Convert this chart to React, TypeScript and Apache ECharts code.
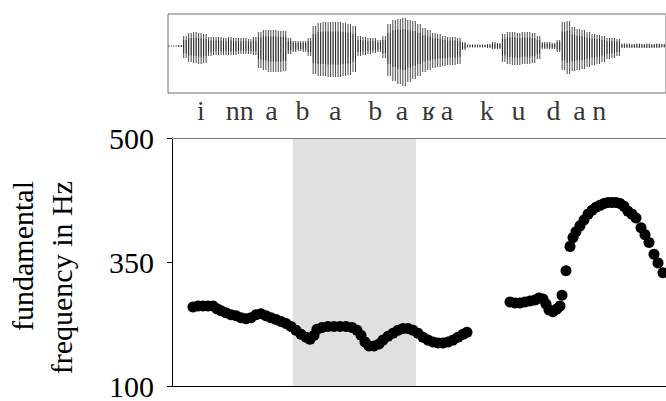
import React, { useEffect, useRef } from "react";
import * as echarts from "echarts";

const FONT = "Liberation Serif";

// Phoneme labels under the waveform (time in ms)
const phonemes = ["i", "nn", "a", "b", "a", "b", "a", "ʁ", "a", "k", "u", "d", "a", "n"];
const phonemeTimes = [87, 204, 300, 393, 492, 612, 693, 774, 828, 948, 1044, 1149, 1227, 1287];

// Waveform envelope (time in ms, amplitude above / below the zero line, arbitrary units)
const waveTimes = [
  -6, 9, 24, 39, 54, 69, 84, 99, 114, 129, 144, 159, 174, 189, 204, 219, 234, 249, 264, 279,
  294, 309, 324, 339, 354, 369, 384, 399, 414, 429, 444, 459, 474, 489, 504, 519, 534, 549, 564, 579,
  594, 609, 624, 639, 654, 669, 684, 699, 714, 729, 744, 759, 774, 789, 804, 819, 834, 849, 864, 879,
  894, 909, 924, 939, 954, 969, 984, 999, 1014, 1029, 1044, 1059, 1074, 1089, 1104, 1119, 1134, 1149, 1164, 1179,
  1194, 1209, 1224, 1239, 1254, 1269, 1284, 1299, 1314, 1329, 1344, 1359, 1374, 1389, 1404, 1419, 1434, 1449, 1464, 1479,
];
const waveUpper = [
  0.5, 0.5, 1, 10, 13, 14, 13, 12, 9, 9, 9, 8, 9, 8, 8, 8, 7, 9, 14, 16,
  16, 16, 15, 15, 8, 5, 5, 5, 8, 20, 23, 24, 24, 24, 24, 23, 22, 20, 10, 9,
  8, 8, 6, 10, 22, 26, 27, 28, 26, 25, 22, 18, 16, 13, 12, 10, 9, 9, 8, 4,
  1.5, 1.5, 1.5, 1.5, 2, 4, 3, 12, 14, 14, 13, 14, 14, 13, 10, 4, 4, 3, 6, 24,
  25, 19, 17, 16, 14, 12, 11, 10, 8, 8, 7, 2.5, 2.5, 2, 2.5, 2, 2.5, 2, 2.5, 2,
];
const waveLower = [
  0.5, 0.5, 1, 12, 16, 17, 18, 17, 10, 9, 9, 9, 9, 9, 8, 8, 8, 9, 22, 24,
  26, 26, 26, 25, 8, 6, 5, 6, 10, 28, 30, 30, 31, 31, 31, 30, 29, 26, 10, 9,
  8, 7, 6, 12, 30, 35, 38, 40, 36, 33, 30, 26, 24, 22, 21, 20, 19, 19, 18, 4,
  1.5, 1.5, 1.5, 1.5, 2, 3, 3, 16, 18, 19, 19, 18, 18, 17, 13, 3, 3, 3, 6, 24,
  28, 25, 24, 23, 21, 19, 18, 16, 13, 12, 10, 2, 2, 2, 2, 2, 2, 2, 2, 1.5,
];

// Fundamental frequency track (time in ms, Hz)
const f0Times = [
  63, 78, 93, 108, 123, 135, 147, 162, 177, 192, 207, 222, 237, 252, 267, 282, 297, 312, 327, 342,
  357, 372, 387, 402, 414, 426, 435, 450, 468, 486, 504, 522, 540, 555, 567, 579, 591, 606, 621, 633,
  648, 663, 678, 693, 708, 723, 738, 753, 768, 783, 798, 813, 828, 843, 858, 873, 885,
  1014, 1029, 1044, 1059, 1074, 1089, 1101, 1113, 1122, 1131, 1143, 1155, 1164, 1170, 1182, 1194, 1203, 1212, 1224, 1236,
  1248, 1260, 1272, 1284, 1296, 1308, 1320, 1332, 1344, 1356, 1368, 1380, 1392, 1407, 1419, 1431, 1446, 1458, 1473,
];
const f0Hz = [
  259.4, 261.4, 261.4, 261.4, 261.4, 255.5, 251.6, 247.6, 243.7, 241.7, 237.8, 235.8, 237.8, 243.7, 245.7, 241.7, 237.8, 233.9, 229.9, 226.0,
  220.1, 212.2, 204.3, 198.4, 194.5, 202.4, 214.2, 218.1, 220.1, 220.1, 220.1, 220.1, 218.1, 212.2, 202.4, 188.6, 180.7, 180.7, 184.6, 192.5,
  200.4, 206.3, 212.2, 216.1, 216.1, 212.2, 206.3, 198.4, 192.5, 188.6, 186.6, 186.6, 188.6, 192.5, 198.4, 204.3, 208.3,
  269.3, 267.3, 267.3, 269.3, 271.3, 273.2, 277.2, 275.2, 265.4, 253.5, 249.6, 255.5, 261.4, 283.1, 332.3, 368.9, 379.5, 386.6, 393.7, 400.8,
  407.9, 412.6, 416.1, 418.5, 420.9, 422.0, 422.0, 422.0, 420.9, 417.3, 411.4, 407.9, 403.1, 391.3, 383.1, 373.6, 359.4, 348.0, 328.3,
];

// Shaded interval (ms)
const shadedStart = 362;
const shadedEnd = 732;

// Y-axis ticks (Hz) – the axis is piecewise: 100–350 and 350–500 each take half the height
const yTickHz = [100, 350, 500];
const hzToPos = (hz: number) =>
  hz <= yTickHz[1]
    ? (hz - yTickHz[0]) / (yTickHz[1] - yTickHz[0])
    : 1 + (hz - yTickHz[1]) / (yTickHz[2] - yTickHz[1]);

const axisTitle = ["fundamental", "frequency in Hz"];

export default function App() {
  const ref = useRef<HTMLDivElement>(null);
  useEffect(() => {
    const chart = echarts.init(ref.current!, null, { renderer: "svg" });
    const option: any = {
      animation: false,
      backgroundColor: "#fff",
      grid: [
        { left: 172, right: 0, top: 138, height: 254 },
        { left: 168, right: -2, top: 14, height: 79, show: true, borderColor: "#6e6e6e", borderWidth: 1, backgroundColor: "transparent" },
        { left: 168, right: -2, top: 98, height: 24 },
      ],
      xAxis: [
        {
          gridIndex: 0, type: "value", min: 0, max: 1482, z: 10,
          axisLine: { show: true, onZero: false, lineStyle: { color: "#000", width: 1 } },
          axisTick: { show: false }, axisLabel: { show: false }, splitLine: { show: false },
        },
        {
          gridIndex: 0, type: "value", position: "top", min: 0, max: 1482, z: 10,
          axisLine: { show: true, onZero: false, lineStyle: { color: "#777", width: 1 } },
          axisTick: { show: false }, axisLabel: { show: false }, splitLine: { show: false },
        },
        { gridIndex: 1, type: "value", min: -12, max: 1488, show: false },
        { gridIndex: 2, type: "value", min: -12, max: 1488, show: false },
      ],
      yAxis: [
        {
          gridIndex: 0, type: "value", min: 0, max: 2, interval: 1, z: 10,
          axisLine: { show: true, onZero: false, lineStyle: { color: "#000", width: 1 } },
          axisTick: { show: true, length: 5, lineStyle: { color: "#000" } },
          axisLabel: {
            formatter: (v: number) => String(yTickHz[Math.round(v)]),
            fontFamily: FONT, fontSize: 30, color: "#000", margin: 18,
          },
          splitLine: { show: false },
        },
        { gridIndex: 1, type: "value", min: -47, max: 32, show: false },
        { gridIndex: 2, type: "value", min: 0, max: 1, show: false },
      ],
      graphic: axisTitle.map((t, i) => ({
        type: "text",
        x: i === 0 ? 22 : 61,
        y: 181,
        rotation: Math.PI / 2,
        style: { text: t, fontFamily: FONT, fontSize: 30, fill: "#000", align: "right", verticalAlign: "middle" },
      })),
      series: [
        {
          type: "scatter",
          xAxisIndex: 0, yAxisIndex: 0,
          symbolSize: 11,
          itemStyle: { color: "#000", opacity: 1 },
          data: f0Times.map((t, i) => [t, hzToPos(f0Hz[i])]),
          markArea: {
            silent: true,
            itemStyle: { color: "#e0e0e0", opacity: 1 },
            data: [[{ xAxis: shadedStart }, { xAxis: shadedEnd }]],
          },
        },
        {
          type: "custom",
          xAxisIndex: 2, yAxisIndex: 1,
          clip: true,
          data: waveTimes.map((t, i) => [t, waveUpper[i], waveLower[i]]),
          encode: { x: 0, y: 1 },
          renderItem: (params: any, api: any) => {
            const t = api.value(0);
            const up = api.value(1);
            const dn = api.value(2);
            const top = api.coord([t, up]);
            const bot = api.coord([t, -dn]);
            const w = api.size([15, 0])[0];
            const off = w / 4;
            const mk = (x: number, stroke: string, y1: number, y2: number, lw: number) => ({
              type: "line",
              shape: { x1: x, y1, x2: x, y2 },
              style: { stroke, lineWidth: lw },
            });
            const mid = api.coord([t, 0])[1];
            const innerTop = mid + (top[1] - mid) * 0.6;
            const innerBot = mid + (bot[1] - mid) * 0.6;
            return {
              type: "group",
              children: [
                mk(top[0] - off, "#4a4a4a", top[1], bot[1], 1),
                mk(top[0] + off, "#4a4a4a", top[1], bot[1], 1),
                mk(top[0] - off, "rgba(10,10,10,0.6)", innerTop, innerBot, 1),
                mk(top[0] + off, "rgba(10,10,10,0.6)", innerTop, innerBot, 1),
              ],
            };
          },
        },
        {
          type: "scatter",
          xAxisIndex: 3, yAxisIndex: 2,
          symbolSize: 1,
          itemStyle: { color: "rgba(0,0,0,0)" },
          data: phonemeTimes.map((t) => [t, 0.5]),
          label: {
            show: true,
            position: "inside",
            formatter: (p: any) => phonemes[p.dataIndex],
            fontFamily: FONT,
            fontSize: 28,
            color: "#000",
          },
        },
      ],
    };
    chart.setOption(option);
    return () => chart.dispose();
  }, []);
  return (
    <div
      ref={ref}
      style={{ position: "fixed", left: 0, top: 0, width: 666, height: 401, background: "#fff" }}
    />
  );
}
